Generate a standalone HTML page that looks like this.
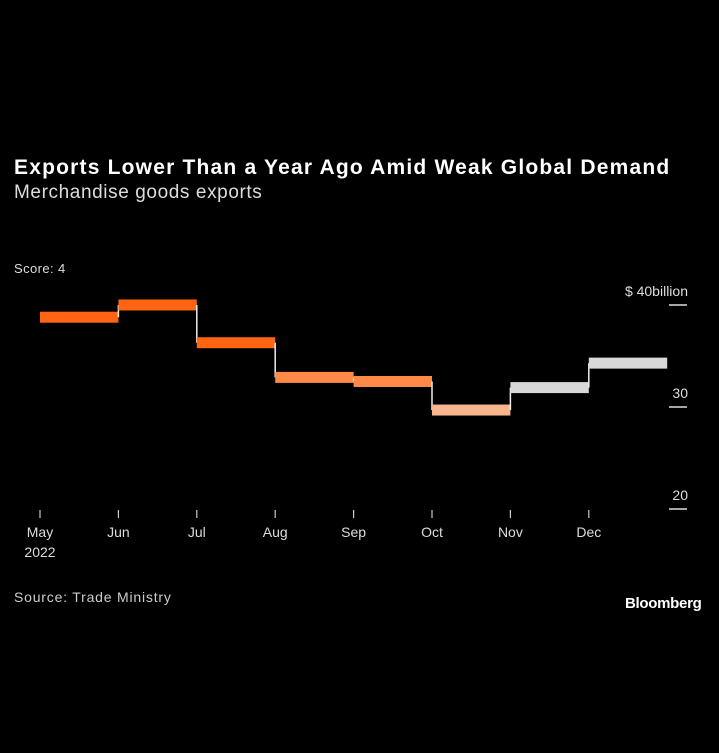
<!DOCTYPE html>
<html><head><meta charset="utf-8"><style>
body{margin:0;background:#000;width:719px;height:753px;overflow:hidden;font-family:"Liberation Sans",sans-serif;color:#fff}
.t{position:absolute;white-space:nowrap}
</style></head><body>
<div class="t" style="left:14px;top:156px;font-size:21px;font-weight:bold;color:#fff;letter-spacing:1.2px">Exports Lower Than a Year Ago Amid Weak Global Demand</div>
<div class="t" style="left:14px;top:182px;font-size:19px;color:#ddd;letter-spacing:0.6px">Merchandise goods exports</div>
<div class="t" style="left:14px;top:261px;font-size:13px;color:#ddd;letter-spacing:0.4px">Score: 4</div>
<div class="t" style="left:14px;top:589px;font-size:14px;color:#ccc;letter-spacing:0.8px">Source: Trade Ministry</div>
<div class="t" style="left:625px;top:595px;font-size:15px;font-weight:bold;color:#fff;letter-spacing:-0.3px">Bloomberg</div>
<svg id="c" width="719" height="753" style="position:absolute;left:0;top:0"></svg>
<script>
const months=["May","Jun","Jul","Aug","Sep","Oct","Nov","Dec"];
const values=[38.9,40.1,36.4,33.0,32.6,29.8,32.0,34.4];
const colors=["#ff6412","#ff6412","#ff6412","#ff8a48","#ff8a48","#f8b68e","#d8d8d8","#d8d8d8"];
const yTicks=[20,30,40];
const yTickLabels=["20","30","$ 40billion"];
const x0=40,dx=78.4,yBase=408,ppu=10.2;
const xs=i=>x0+i*dx;
const ys=v=>yBase-(v-30)*ppu;
const svg=document.getElementById('c');
const NS="http://www.w3.org/2000/svg";
function mk(t,a){const e=document.createElementNS(NS,t);for(const k in a)e.setAttribute(k,a[k]);svg.appendChild(e);return e;}
yTicks.forEach((v,i)=>{
 const l=mk('line',{x1:669,x2:687,y1:ys(v)-1,y2:ys(v)-1,stroke:'#ddd','stroke-width':1.5});
 
 
 const t=mk('text',{x:688,y:ys(v)-10,'text-anchor':'end',fill:'#ddd','font-size':14,'font-family':'Liberation Sans, sans-serif'});
 t.textContent=yTickLabels[i];
 
 
});
months.forEach((m,i)=>{
 const l=mk('line',{x1:xs(i),x2:xs(i),y1:510,y2:518,stroke:'#ccc','stroke-width':1.2});
 
 
 const t=mk('text',{x:xs(i),y:537,'text-anchor':'middle',fill:'#ddd','font-size':14,'font-family':'Liberation Sans, sans-serif'});
 t.textContent=m;
 
 
});
const yr=mk('text',{x:40,y:557,'text-anchor':'middle',fill:'#ddd','font-size':14,'font-family':'Liberation Sans, sans-serif'});
yr.textContent='2022';


values.forEach((v,i)=>{
 if(i>0){const c=mk('line',{x1:xs(i),x2:xs(i),y1:ys(values[i-1]),y2:ys(v),stroke:'#eee','stroke-width':1.5});
 
 }
 const r=mk('rect',{x:xs(i),y:ys(v)-5.5,width:dx,height:11,fill:colors[i]});
 
 
});
</script>
</body></html>
